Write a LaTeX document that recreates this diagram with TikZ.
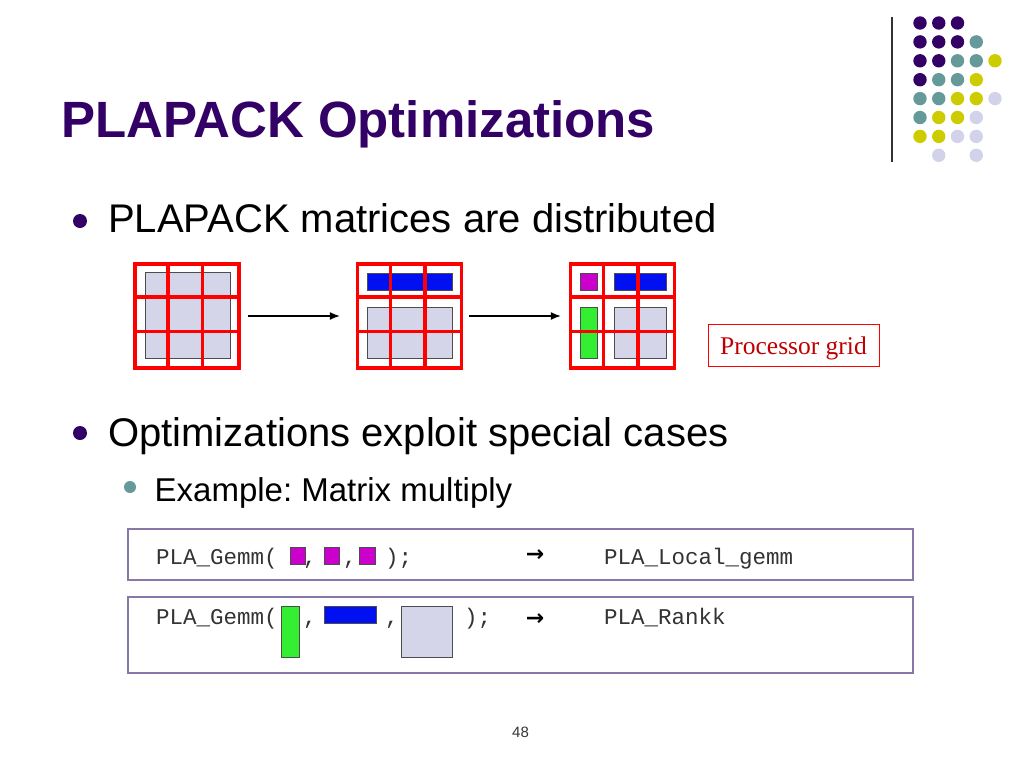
\documentclass[tikz,border=0pt]{standalone}
\usepackage{fontspec}
\setmainfont{Liberation Sans}
\newfontfamily\codefont{Liberation Mono}
\newfontfamily\labelfont{Liberation Serif}
\newfontfamily\symfont{DejaVu Sans}
\usetikzlibrary{arrows.meta,positioning}
\frenchspacing
\definecolor{dotpurple}{HTML}{330066}
\definecolor{dotteal}{HTML}{669999}
\definecolor{dotyellow}{HTML}{CCCC00}
\definecolor{dotlav}{HTML}{D2D2EA}
\definecolor{matgray}{HTML}{D4D5E8}
\definecolor{boxpurple}{HTML}{8878A8}
\definecolor{colgreen}{HTML}{33EE33}
\definecolor{rowblue}{HTML}{0010F0}
\definecolor{blkmagenta}{HTML}{CC00CC}
\definecolor{labelred}{HTML}{C00000}
\tikzset{
    every node/.style={
        inner sep=0pt
    },
    procgrid/.style={
        draw=red,
        line width=3.5pt,
        minimum width=104pt,
        minimum height=104pt
    },
    gridline/.style={
        red,
        line width=3.5pt
    },
    block/.style={
        draw=black!70,
        line width=0.8pt
    },
    codebox/.style={
        draw=boxpurple,
        line width=1.5pt,
        minimum width=785pt
    },
    code/.style={
        anchor=base west,
        text=black!80,
        font=\codefont\fontsize{22.5}{26}\selectfont
    },
    goes/.style={
        text=black,
        font=\symfont\bfseries\fontsize{22}{26}\selectfont
    },
    bullet/.style={
        anchor=base west,
        font=\fontsize{40}{46}\selectfont
    },
    flow/.style={
        -{Latex[length=10pt,width=8pt]},
        line width=1.2pt
    }
}

\begin{document}
\begin{tikzpicture}
		[x=1pt, y=-1pt]
		\useasboundingbox (0,0) rectangle (1024,768);
		% Corner dots
		\draw[line width=1.3pt, black!80] (892,17) -- (892,162);
		\foreach \c/\r/\col in {1/1/dotpurple, 2/1/dotpurple, 3/1/dotpurple,
				1/2/dotpurple, 2/2/dotpurple, 3/2/dotpurple, 4/2/dotteal,
				1/3/dotpurple, 2/3/dotpurple, 3/3/dotteal, 4/3/dotteal, 5/3/dotyellow,
				1/4/dotpurple, 2/4/dotteal, 3/4/dotteal, 4/4/dotyellow,
				1/5/dotteal, 2/5/dotteal, 3/5/dotyellow, 4/5/dotyellow, 5/5/dotlav,
				1/6/dotteal, 2/6/dotyellow, 3/6/dotyellow, 4/6/dotlav,
				1/7/dotyellow, 2/7/dotyellow, 3/7/dotlav, 4/7/dotlav,
				2/8/dotlav, 4/8/dotlav}
			\fill[\col] ({920+18.75*(\c-1)},{23+18.9*(\r-1)}) circle (6.7pt);
		% Title and bullets
		\node (title) at (61,137) [anchor=base west, text=dotpurple, font=\bfseries\fontsize{51}{60}\selectfont] {PLAPACK Optimizations};
		\fill[dotpurple] (80,221) circle (7pt);
		\node (b1) at (108,232) [bullet] {PLAPACK matrices are distributed};
		\fill[dotpurple] (80,433) circle (7pt);
		\node (b2) at (108,446) [bullet] {Optimizations exploit special cases};
		\fill[dotteal] (130,487) circle (6pt);
		\node (b3) at (154.5,501) [anchor=base west, font=\fontsize{33}{38}\selectfont] {Example: Matrix multiply};
		% Matrices
		\draw[block, fill=matgray] (145,272) rectangle (230,358);
		\draw[block, fill=rowblue] (367,273) rectangle (452,290);
		\draw[block, fill=matgray] (367,307) rectangle (452,358);
		\draw[block, fill=blkmagenta] (580,273) rectangle (597,290);
		\draw[block, fill=rowblue] (614,273) rectangle (666,290);
		\draw[block, fill=colgreen] (580,307) rectangle (597,358);
		\draw[block, fill=matgray] (614,307) rectangle (666,358);
		% Processor grids
		\node (g1) at (187,316) [procgrid] {};
		\node (g2) at (409.5,316) [procgrid] {};
		\node (g3) at (622.5,316) [procgrid] {};
		\foreach \g in {g1,g2,g3} {
			\foreach \s in {34.67,69.33} {
				\draw[gridline] ([xshift=\s pt]\g.north west) -- ([xshift=\s pt]\g.south west);
				\draw[gridline] ([yshift=-\s pt]\g.north west) -- ([yshift=-\s pt]\g.north east);
			}
		}
		\node (pgrid) at (793.5,345) [draw=red, line width=0.8pt, minimum width=171pt, minimum height=42pt, text height=19pt, text depth=1pt, text=labelred, font=\labelfont\fontsize{25.5}{30}\selectfont] {Processor grid};
		% Code lines
		\node (gemmA) at (520.5,554.5) [codebox, minimum height=51pt] {};
		\node (gemmB) at (520.5,635) [codebox, minimum height=76pt] {};
		\node (a1) at (156,564) [code] {PLA\_Gemm(};
		\draw[block, fill=blkmagenta] (290,547) rectangle (305,564);
		\node (a2) at (303,564) [code] {,};
		\draw[block, fill=blkmagenta] (324,547) rectangle (339,564);
		\node (a3) at (343,564) [code] {,};
		\draw[block, fill=blkmagenta] (359,547) rectangle (375,564);
		\node (a4) at (385,564) [code] {);};
		\node (a5) at (535,556) [goes] {→};
		\node (a6) at (604,564) [code] {PLA\_Local\_gemm};
		\node (r1) at (156,624) [code] {PLA\_Gemm(};
		\draw[block, fill=colgreen] (281,606) rectangle (299,657);
		\node (r2) at (303,624) [code] {,};
		\draw[block, fill=rowblue] (324,606) rectangle (376,623);
		\node (r3) at (385,624) [code] {,};
		\draw[block, fill=matgray] (401,606) rectangle (452,657);
		\node (r4) at (464,624) [code] {);};
		\node (r5) at (535,620) [goes] {→};
		\node (r6) at (604,624) [code] {PLA\_Rankk};
		\node (pnum) at (520.5,737) [anchor=base, text=black!80, font=\fontsize{15}{18}\selectfont] {48};
		% Connectors
		\draw[flow, shorten <=7pt, shorten >=16pt] (g1) -- (g2);
		\draw[flow, shorten <=6pt, shorten >=8pt] (g2) -- (g3);
	\end{tikzpicture}
\end{document}
